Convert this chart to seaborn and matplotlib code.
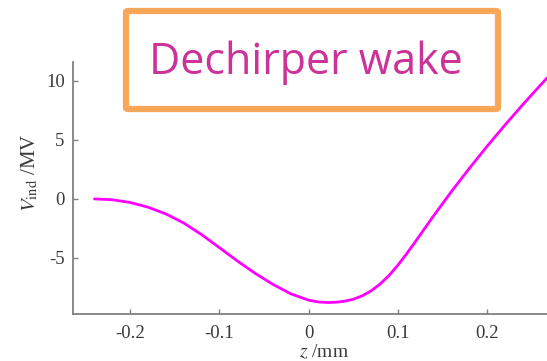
import matplotlib
matplotlib.use("Agg")
import matplotlib.pyplot as plt
from matplotlib.patches import FancyBboxPatch
import seaborn as sns
import pandas as pd

# Induced voltage along the bunch (z in mm, V in MV)
z_mm = [-0.24, -0.22, -0.20, -0.18, -0.16, -0.14, -0.12, -0.10, -0.08, -0.06,
        -0.04, -0.02, 0.0, 0.011, 0.022, 0.031, 0.04, 0.05, 0.06, 0.07, 0.08,
        0.09, 0.10, 0.11, 0.12, 0.14, 0.16, 0.18, 0.20, 0.22, 0.24, 0.26, 0.28]
v_mv = [0.0, -0.07, -0.30, -0.70, -1.27, -2.04, -3.02, -4.13, -5.25, -6.30,
        -7.24, -8.04, -8.58, -8.73, -8.78, -8.75, -8.67, -8.50, -8.21, -7.79,
        -7.21, -6.49, -5.61, -4.62, -3.57, -1.43, 0.63, 2.59, 4.47, 6.27,
        8.00, 9.67, 11.29]

x_ticks = [-0.2, -0.1, 0, 0.1, 0.2]
y_ticks = [-5, 0, 5, 10]
title_text = "Dechirper wake"

df = pd.DataFrame({"z": z_mm, "V": v_mv})

sns.set_style("ticks")
plt.rcParams["font.family"] = ["Liberation Serif", "DejaVu Serif"]
plt.rcParams["mathtext.fontset"] = "stix"
plt.rcParams["axes.unicode_minus"] = False

W, H = 547, 361
fig = plt.figure(figsize=(W / 100, H / 100), dpi=100)
ax = fig.add_axes([73 / W, 1 - 314 / H, 1 - 73 / W, (314 - 62) / H])

sns.lineplot(data=df, x="z", y="V", ax=ax, color="#FF00FF", lw=2.0, zorder=2)

ax.set_xlim(-0.264, 0.267)
ax.set_ylim(-9.75, 11.6)
ax.set_xticks(x_ticks)
ax.set_xticklabels([f"{t:g}" for t in x_ticks])
ax.set_yticks(y_ticks)

grey = "#808080"
for side in ("top", "right"):
    ax.spines[side].set_visible(False)
for side in ("left", "bottom"):
    ax.spines[side].set_color(grey)
    ax.spines[side].set_linewidth(1.3)
ax.tick_params(direction="in", length=3.5, width=1.0, color=grey,
               labelsize=13.5, labelcolor="#3a3a3a")
ax.tick_params(axis="x", pad=8)
ax.tick_params(axis="y", pad=6)
ax.tick_params(axis="x", top=True)

ax.set_xlabel(r"$z$ /mm", fontsize=14, color="#3a3a3a")
ax.set_ylabel(r"$V_{\rm ind}$ /MV", fontsize=15, color="#3a3a3a")
ax.xaxis.set_label_coords(0.53, -0.115)
ax.yaxis.set_label_coords(-0.068, 0.56)

# Framed caption over the upper part of the plot
box = FancyBboxPatch((126 / W, 1 - 109 / H), (498 - 126) / W, (109 - 11) / H,
                     boxstyle="round,pad=0,rounding_size=0.004",
                     transform=fig.transFigure, facecolor="white",
                     edgecolor="#FAA659", linewidth=4.5, zorder=2.2)
ax.add_patch(box)
box.set_clip_on(False)
fig.text(306 / W, 1 - 63 / H, title_text, ha="center", va="center",
         fontsize=31, color="#CC3399", family=["Open Sans", "DejaVu Sans"],
         zorder=5)

fig.savefig("out.png", dpi=100)
